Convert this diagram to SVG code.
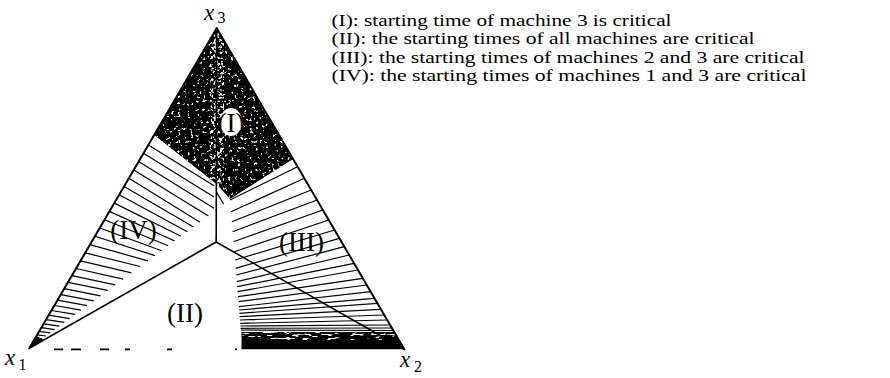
<svg xmlns="http://www.w3.org/2000/svg" width="890" height="378" viewBox="0 0 890 378">
<style>
.edge{stroke:#000;stroke-width:2;fill:none;stroke-linecap:round}
.inner{stroke:#000;stroke-width:1.6;fill:none}
.h{stroke:#000;stroke-width:1.2;fill:none}
.dash{stroke:#000;stroke-width:1.8}
.lbl{font-family:"Liberation Serif","Times New Roman",serif;font-size:27px;fill:#000}
.var{font-family:"Liberation Serif","Times New Roman",serif;font-size:23px;font-style:italic;fill:#000}
.sub{font-family:"Liberation Serif","Times New Roman",serif;font-size:16px;fill:#000}
.leg{font-family:"Liberation Serif","Times New Roman",serif;font-size:16.6px;fill:#000}
</style>
<defs>
<clipPath id="clipI"><polygon points="216.7,28.3 154.2,135 216.5,184 230,199 293.1,159"/></clipPath>
<clipPath id="clipBand"><polygon points="241.5,332 394.3,332 404.3,349.3 241.5,349.3"/></clipPath>
<filter id="spk" filterUnits="userSpaceOnUse" x="140" y="20" width="170" height="190">
<feTurbulence type="fractalNoise" baseFrequency="0.32" numOctaves="2" seed="4"/>
<feColorMatrix type="matrix" values="0 0 0 0 1  0 0 0 0 1  0 0 0 0 1  9 0 0 0 -5.6"/>
</filter>
<filter id="spk2" filterUnits="userSpaceOnUse" x="210" y="30" width="14" height="170">
<feTurbulence type="fractalNoise" baseFrequency="0.35" numOctaves="2" seed="9"/>
<feColorMatrix type="matrix" values="0 0 0 0 1  0 0 0 0 1  0 0 0 0 1  9 0 0 0 -4.9"/>
</filter>
<filter id="spk3" filterUnits="userSpaceOnUse" x="240" y="330" width="170" height="10">
<feTurbulence type="fractalNoise" baseFrequency="0.12 0.5" numOctaves="2" seed="2"/>
<feColorMatrix type="matrix" values="0 0 0 0 1  0 0 0 0 1  0 0 0 0 1  9 0 0 0 -5.0"/>
</filter>
</defs>

<g id="region-IV">
<path class="h" d="M148.4,145L214,185.7M143.5,153.3L214,197M138.6,161.6L214,208.3M133.8,169.9L208.4,216.1M128.9,178.2L200,222.3M124.1,186.5L193.5,227.1M119.2,194.8L187.3,231.7M114.3,203.1L181,236.3M109.5,211.4L174.7,241M104.6,219.7L168.2,245.8M99.8,228L161.6,250.7M94.9,236.3L154.9,255.6M90,244.6L147.9,260.8M85.2,252.9L140.2,266.5M80.5,260.9L131.5,272.9M76,268.5L123.1,279.1M71.9,275.6L115.2,284.9M68,282.3L107.7,290.4M64.2,288.7L100.4,295.8M60.8,294.6L93.7,300.8M57.5,300.2L87.2,305.6M54.4,305.5L81,310.1M51.4,310.5L75.2,314.4M48.7,315.2L69.6,318.6M46.1,319.6L64.4,322.4M43.7,323.8L59.4,326.1M41.4,327.7L54.6,329.6M39.2,331.4L50.2,332.9M37.2,334.9L45.9,336M35.3,338.1L42,338.9M33.5,341.2L38.1,341.8"/>
<polygon points="29.3,348.3 36.5,336 44,340" fill="#000"/>
<text class="lbl" x="133.5" y="239" text-anchor="middle">(IV)</text>
</g>

<g id="region-III">
<path class="h" d="M230,200L297.6,166.7M231,211.7L304.4,178.3M231.8,221.7L311.2,190M232.6,231.7L317.1,200M233.5,241.7L322.9,210M234.3,251.7L328.7,220M235,260L334.6,230M235.7,268.3L339.4,238.3M236.3,275L344.3,246.7M236.8,281.7L349.2,255M237.2,286.7L354.1,263.3M237.6,291.7L358,270M238.1,296.7L362.8,278.3M238.5,301.7L366.7,285M238.9,306.7L370.6,291.7M239.2,310L374.5,298.3M239.4,313.3L377.4,303.3M239.7,316.7L380.9,309.3M240,320L384.3,315M240.3,323.3L387.2,320M240.5,326L390.1,325M240.7,328.3L391.9,328M240.8,330L393.3,330.5"/>
<g clip-path="url(#clipBand)">
<rect x="241" y="331" width="165" height="20" fill="#000"/>
<rect x="240" y="330" width="170" height="10" filter="url(#spk3)"/>
</g>
<text class="lbl" x="301.5" y="251" text-anchor="middle">(III)</text>
</g>

<g id="region-I">
<g clip-path="url(#clipI)">
<rect x="140" y="20" width="170" height="190" fill="#000"/>
<rect x="140" y="20" width="170" height="190" filter="url(#spk)"/>
<rect x="210" y="30" width="14" height="170" filter="url(#spk2)"/>
</g>
<ellipse cx="231" cy="122" rx="11" ry="14" fill="#fff"/>
<text class="lbl" x="231" y="132" text-anchor="middle" font-size="25">(I)</text>
</g>

<g id="region-II">
<text class="lbl" x="185" y="322" text-anchor="middle">(II)</text>
</g>

<g id="connectors">
<line class="edge" x1="29.3" y1="348.3" x2="216.7" y2="28.3"/>
<line class="edge" x1="216.7" y1="28.3" x2="404.3" y2="349.3"/>
<line class="inner" x1="216.6" y1="28.3" x2="216.2" y2="242"/>
<line class="inner" x1="216.2" y1="242" x2="29.3" y2="348.3"/>
<line class="inner" x1="216.2" y1="242" x2="404.3" y2="349.3"/>
<line class="h" x1="216.5" y1="192" x2="223.5" y2="204"/>
<path class="dash" d="M54,349.3H63M71,349.3H81M100,349.3H109M125,349.3H130M167,349.3H172M235,349.3H237"/>
</g>

<g id="vertex-labels">
<text class="var" x="204" y="20">x</text><text class="sub" x="217.5" y="23">3</text>
<text class="var" x="5" y="365">x</text><text class="sub" x="18.5" y="370">1</text>
<text class="var" x="400" y="366.5">x</text><text class="sub" x="414" y="371.5">2</text>
</g>

<g id="legend">
<text class="leg" x="331.5" y="25.5" textLength="340" lengthAdjust="spacingAndGlyphs">(I): starting time of machine 3 is critical</text>
<text class="leg" x="331.5" y="44" textLength="423" lengthAdjust="spacingAndGlyphs">(II): the starting times of all machines are critical</text>
<text class="leg" x="331.5" y="62.5" textLength="473" lengthAdjust="spacingAndGlyphs">(III): the starting times of machines 2 and 3 are critical</text>
<text class="leg" x="331.5" y="81" textLength="475" lengthAdjust="spacingAndGlyphs">(IV): the starting times of machines 1 and 3 are critical</text>
</g>
</svg>
